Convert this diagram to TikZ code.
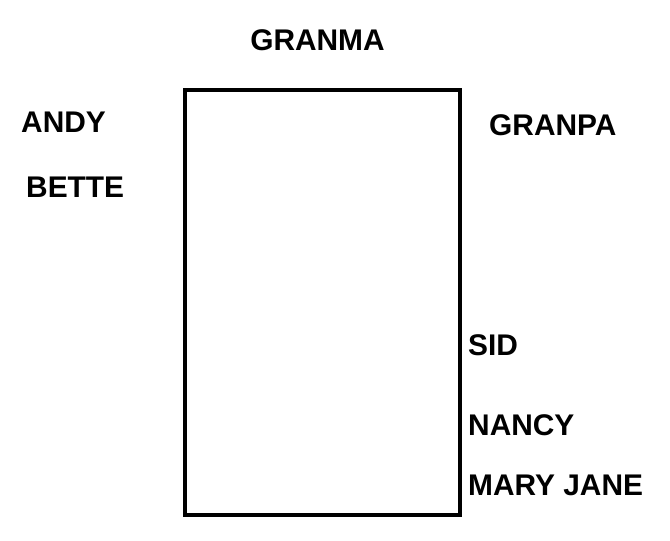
\documentclass[tikz,border=0pt]{standalone}
\usepackage{fontspec}
\setmainfont{Liberation Sans}
\begin{document}
\begin{tikzpicture}[guest/.style={anchor=west,font=\bfseries\fontsize{17}{20}\selectfont},
                    seat/.style={draw,line width=2.4pt,minimum width=5.5cm,minimum height=8.5cm}]
                \useasboundingbox (0,0) rectangle (13.4,-10.8);
                \node[seat] (T) at (6.45,-6.05) {};
                \node[guest,anchor=center] (GM) at (6.35,-0.8) {GRANMA};
                \node[guest] (A) at (0.3,-2.45) {ANDY};
                \node[guest] (B) at (0.4,-3.75) {BETTE};
                \node[guest] (GP) at (9.66,-2.5) {GRANPA};
                \node[guest] (S) at (9.24,-6.9) {SID};
                \node[guest] (N) at (9.24,-8.5) {NANCY};
                \node[guest] (MJ) at (9.24,-9.7) {MARY JANE};
            \end{tikzpicture}
\end{document}
